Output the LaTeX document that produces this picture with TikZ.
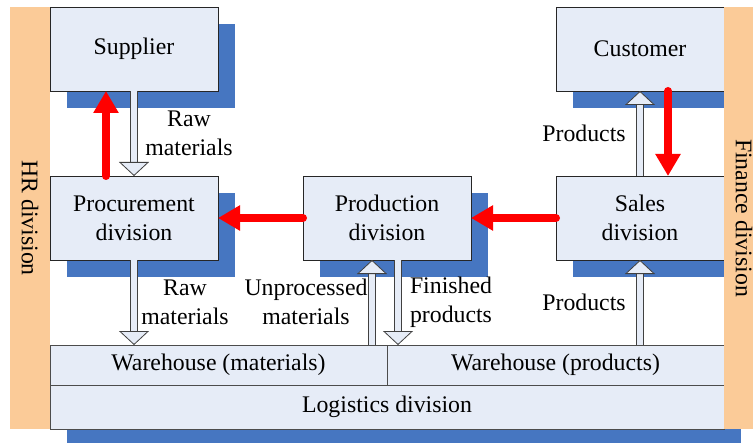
\documentclass[tikz,border=0pt]{standalone}
\usepackage{fontspec}
\setmainfont{Liberation Serif}
\usetikzlibrary{arrows.meta,shadows}

\definecolor{boxfill}{RGB}{230,236,247}
\definecolor{shadowblue}{RGB}{70,118,193}
\definecolor{barorange}{RGB}{251,203,152}

\begin{document}
\begin{tikzpicture}[
        x=0.5pt, y=-0.5pt,
        every node/.style={inner sep=0pt, outer sep=0pt, align=center, font=\fontsize{11.9}{14.5}\selectfont},
        unit/.style={draw=black!85, fill=boxfill, minimum width=84pt, minimum height=42pt,
            drop shadow={shadow xshift=8.5pt, shadow yshift=-8.5pt, fill=shadowblue, opacity=1}},
        store/.style={draw=black!70, fill=boxfill, minimum width=168.5pt, minimum height=20pt},
        sidebar/.style={fill=barorange, minimum width=211pt, minimum height=20pt, rotate=-90},
        hollow/.style={draw=black!75, line width=0.4pt, double=boxfill, double distance=3.2pt,
            -{Triangle[width=15pt, length=7pt, fill=boxfill, line width=0.4pt]}},
        flow/.style={red, line width=4pt, line cap=round, -{Triangle[width=12pt, length=11pt]}}
    ]
        \useasboundingbox (0,0) rectangle (753,443);
        \clip (0,0) rectangle (753,443);

        % divisions
        \node[unit] (sup) at (134,49) {Supplier};
        \node[unit] (cust) at (640,49) {Customer};
        \node[unit] (proc) at (134,218) {Procurement\\division};
        \node[unit] (prod) at (387,218) {Production\\division};
        \node[unit] (sales) at (640,218) {Sales\\division};

        % logistics and warehouses
        \node[store, minimum width=337pt, minimum height=22pt,
            drop shadow={shadow xshift=8.5pt, shadow yshift=-8.5pt, fill=shadowblue, opacity=1}]
            (logi) at (387,407) {Logistics division};
        \node[store] (whm) at (218.5,365) {Warehouse (materials)};
        \node[store] (whp) at (555.5,365) {Warehouse (products)};

        % side bars
        \node[sidebar] (hr) at (30,218) {HR division};
        \node[sidebar] (fin) at (744,218) {Finance division};

        % material flows
        \draw[hollow] (sup.south) -- (proc.north);
        \draw[hollow] (proc.south) -- (proc.south |- whm.north);
        \draw[hollow] ([xshift=-7.5pt]prod.south |- whm.north) -- ([xshift=-7.5pt]prod.south);
        \draw[hollow] ([xshift=5.5pt]prod.south) -- ([xshift=5.5pt]prod.south |- whp.north);
        \draw[hollow] (sales.south |- whp.north) -- (sales.south);
        \draw[hollow] (sales.north) -- (cust.south);

        % order flows
        \draw[flow] ([xshift=-14pt]proc.north) -- ([xshift=-14pt]sup.south);
        \draw[flow] ([xshift=14pt]cust.south) -- ([xshift=14pt]sales.north);
        \draw[flow] (sales.west) -- (prod.east);
        \draw[flow] (prod.west) -- (proc.east);

        % labels
        \node (rawA) at (189,133) {Raw\\materials};
        \node (rawB) at (185,302) {Raw\\materials};
        \node (unproc) at (306,302) {Unprocessed\\materials};
        \node (finished) at (451,302) {Finished\\products};
        \node (prodA) at (584,133) {Products};
        \node (prodB) at (584,302) {Products};
    \end{tikzpicture}
\end{document}
